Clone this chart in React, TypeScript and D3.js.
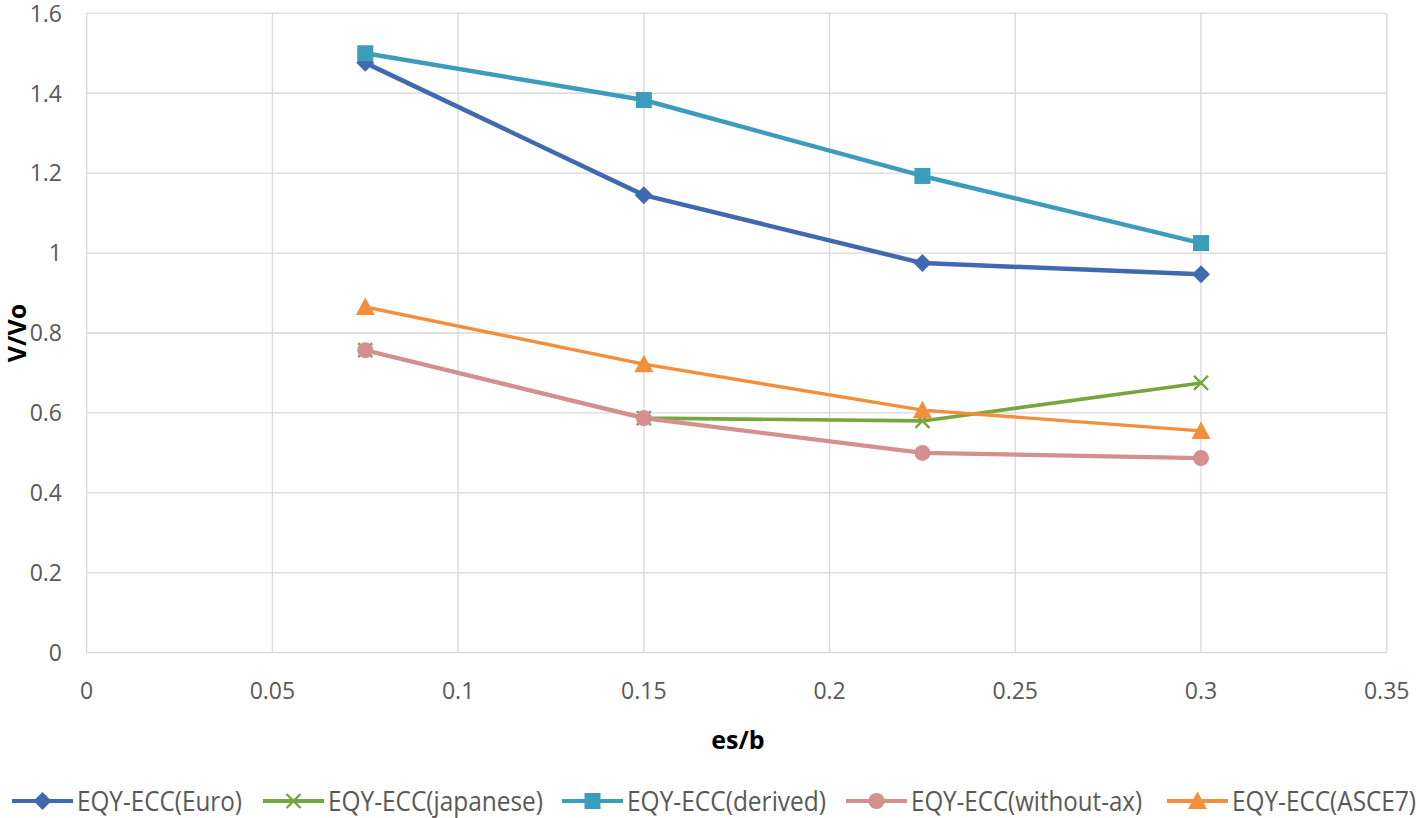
import React from "react";
import * as d3 from "d3";

const xValues = [0.075, 0.15, 0.225, 0.3];
const seriesNames = [
  "EQY-ECC(Euro)",
  "EQY-ECC(japanese)",
  "EQY-ECC(derived)",
  "EQY-ECC(without-ax)",
  "EQY-ECC(ASCE7)",
];
const euro = [1.476, 1.145, 0.975, 0.947];
const japanese = [0.757, 0.587, 0.58, 0.675];
const derived = [1.5, 1.383, 1.193, 1.025];
const withoutAx = [0.757, 0.587, 0.5, 0.487];
const asce7 = [0.865, 0.722, 0.607, 0.555];
const xTicks = [0, 0.05, 0.1, 0.15, 0.2, 0.25, 0.3, 0.35];
const yTicks = [0, 0.2, 0.4, 0.6, 0.8, 1, 1.2, 1.4, 1.6];
const colors = ["#4169AF", "#78A53D", "#3B9DBB", "#D3908F", "#F38E3A"];
const markers = ["diamond", "x", "square", "circle", "triangle"];
const widths = [4.5, 3.6, 4.5, 4.2, 3.4];

const W = 1420;
const H = 818;
const M = { left: 86.7, right: 1386.7, top: 13.3, bottom: 652.7 };
const legendLineX = [12, 263, 562, 846, 1167];
const legendTextW = [165, 215, 199, 231, 184];

function Marker({ type, x, y, color }: { type: string; x: number; y: number; color: string }) {
  if (type === "diamond") {
    const s = 9;
    return <path d={`M${x},${y - s}L${x + s},${y}L${x},${y + s}L${x - s},${y}Z`} fill={color} />;
  }
  if (type === "square") {
    const s = 8;
    return <rect x={x - s} y={y - s} width={2 * s} height={2 * s} fill={color} />;
  }
  if (type === "circle") {
    return <circle cx={x} cy={y} r={8} fill={color} />;
  }
  if (type === "triangle") {
    const s = 9.5;
    return <path d={`M${x},${y - s}L${x + s},${y + s * 0.85}L${x - s},${y + s * 0.85}Z`} fill={color} />;
  }
  const s = 7;
  return (
    <path
      d={`M${x - s},${y - s}L${x + s},${y + s}M${x - s},${y + s}L${x + s},${y - s}`}
      stroke={color}
      strokeWidth={2.4}
      fill="none"
    />
  );
}

export default function App() {
  const series = [euro, japanese, derived, withoutAx, asce7];
  const x = d3.scaleLinear().domain([0, 0.35]).range([M.left, M.right]);
  const y = d3.scaleLinear().domain([0, 1.6]).range([M.bottom, M.top]);
  const line = d3
    .line<number>()
    .x((_, i) => x(xValues[i]))
    .y((d) => y(d));
  const drawOrder = [0, 1, 2, 3, 4];
  const font = "'Open Sans', sans-serif";

  return (
    <svg width={W} height={H} style={{ position: "absolute", left: 0, top: 0, background: "#fff" }}>
      <rect width={W} height={H} fill="#fff" />
      {yTicks.map((t) => (
        <line key={"gy" + t} x1={M.left} x2={M.right} y1={y(t)} y2={y(t)} stroke="#d9d9d9" strokeWidth={1.3} />
      ))}
      {xTicks.map((t) => (
        <line key={"gx" + t} x1={x(t)} x2={x(t)} y1={M.top} y2={M.bottom} stroke="#d9d9d9" strokeWidth={1.3} />
      ))}
      {yTicks.map((t) => (
        <text
          key={"ly" + t}
          x={62}
          y={y(t)}
          dy="0.36em"
          textAnchor="end"
          fontFamily={font}
          fontSize={23}
          fill="#595959"
        >
          {String(t)}
        </text>
      ))}
      {xTicks.map((t) => (
        <text
          key={"lx" + t}
          x={x(t)}
          y={691}
          dy="0.36em"
          textAnchor="middle"
          fontFamily={font}
          fontSize={23}
          fill="#595959"
        >
          {String(t)}
        </text>
      ))}
      <text
        x={738}
        y={749}
        textAnchor="middle"
        fontFamily={font}
        fontWeight="bold"
        fontSize={25}
        fill="#000"
      >
        es/b
      </text>
      <text
        transform={`translate(26,${y(0.8)}) rotate(-90)`}
        textAnchor="middle"
        fontFamily={font}
        fontWeight="bold"
        fontSize={25}
        fill="#000"
      >
        V/Vo
      </text>
      {drawOrder.map((si) => (
        <g key={"s" + si}>
          <path d={line(series[si]) || ""} fill="none" stroke={colors[si]} strokeWidth={widths[si]} strokeLinejoin="round" strokeLinecap="round" />
          {series[si].map((v, i) => (
            <Marker key={i} type={markers[si]} x={x(xValues[i])} y={y(v)} color={colors[si]} />
          ))}
        </g>
      ))}
      {seriesNames.map((name, si) => (
        <g key={"lg" + si}>
          <line x1={legendLineX[si]} x2={legendLineX[si] + 61} y1={801} y2={801} stroke={colors[si]} strokeWidth={4} />
          <Marker type={markers[si]} x={legendLineX[si] + 30.5} y={801} color={colors[si]} />
          <text
            x={legendLineX[si] + 65}
            y={801}
            dy="0.36em"
            fontFamily={font}
            fontSize={27}
            fill="#595959"
            textLength={legendTextW[si]}
            lengthAdjust="spacingAndGlyphs"
          >
            {name}
          </text>
        </g>
      ))}
    </svg>
  );
}
